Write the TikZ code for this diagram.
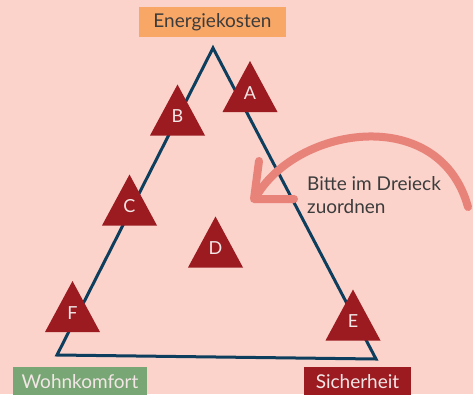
\documentclass[tikz,border=0pt]{standalone}
\usepackage{fontspec}
\setmainfont{Lato}
\definecolor{bgc}{HTML}{FBD3CB}
\definecolor{orangec}{HTML}{F9A767}
\definecolor{greenc}{HTML}{78A674}
\definecolor{redc}{HTML}{9B1B20}
\definecolor{navyc}{HTML}{0E3E5D}
\definecolor{salmonc}{HTML}{E8837A}
\definecolor{textc}{HTML}{3C3C3C}
\definecolor{lightc}{HTML}{F2E6E6}
\begin{document}
\begin{tikzpicture}[x=1pt,y=-1pt,
  lbl/.style={font=\fontsize{19}{23}\selectfont},
  marktext/.style={font=\fontsize{18}{20}\selectfont, text=lightc, inner sep=0pt},
  bigarrow/.style={draw=salmonc, line width=8pt, line cap=round, line join=round}]
\fill[bgc] (0,0) rectangle (473,394);
\useasboundingbox (0,0) rectangle (473,394);
\clip (0,0) rectangle (473,394);
% main triangle
\coordinate (top) at (213,48);
\coordinate (bl) at (57,355);
\coordinate (br) at (376,359);
\draw[navyc, line width=3pt, line join=miter] (top) -- (bl) -- (br) -- cycle;
% markers
\newcommand\markertri[3]{%
  \fill[redc] (#2,#3) -- (#2-27.5,#3+51) -- (#2+27.5,#3+51) -- cycle;
  \node[marktext] (m#1) at (#2,#3+32) {#1};}
\markertri{A}{250}{61}
\markertri{B}{177.5}{84.5}
\markertri{C}{129.5}{174.5}
\markertri{D}{215.5}{216.5}
\markertri{E}{353}{289.5}
\markertri{F}{72.5}{281}
% corner labels
\fill[orangec] (139,7) rectangle (286,37);
\node[lbl, text=textc] (energie) at (212.5,22.5) {Energiekosten};
\fill[greenc] (13,367) rectangle (147,400);
\node[lbl, text=lightc] (wohn) at (80,382) {Wohnkomfort};
\fill[redc] (304,367) rectangle (411,400);
\node[lbl, text=lightc] (sicher) at (357.5,382) {Sicherheit};
% instruction
\node[lbl, text=textc, align=left, anchor=north west, inner sep=0pt] (hint) at (307,176)
  {Bitte im Dreieck\\zuordnen};
% arrow
\coordinate (astart) at (468,207);
\coordinate (aend) at (257,195);
\coordinate (tip) at (254,199);
\draw[bigarrow] (astart) .. controls (440,105) and (300,125) .. (aend);
\draw[bigarrow] (259,161) -- (tip) -- (294,199);
\end{tikzpicture}
\end{document}
